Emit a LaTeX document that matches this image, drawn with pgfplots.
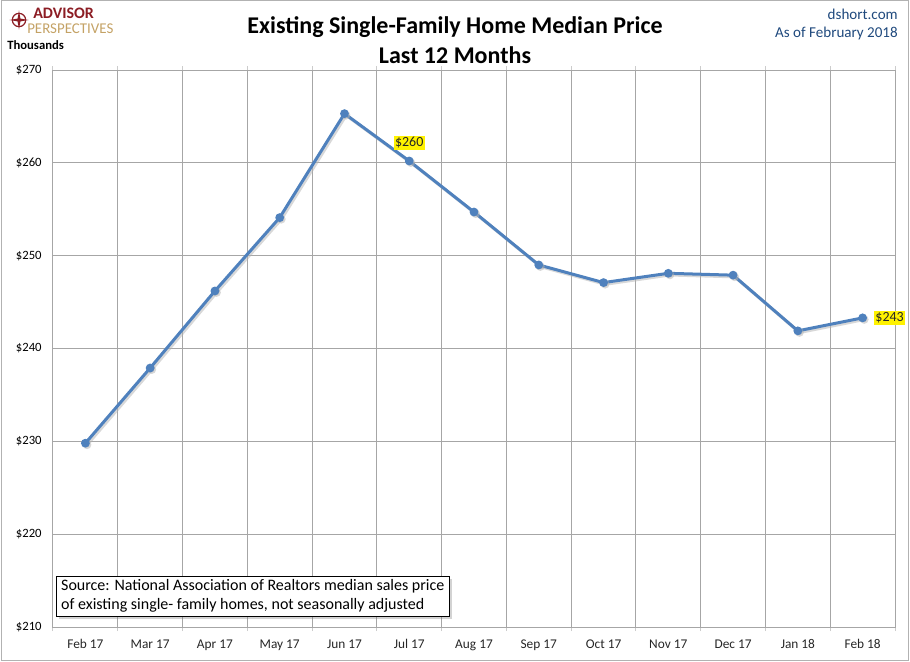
\documentclass[border=0pt]{standalone}
\usepackage{pgfplots}
\pgfplotsset{compat=1.18}
\usepackage{fontspec}
\setmainfont{Carlito}
\usetikzlibrary{shadows}
\definecolor{lineblue}{HTML}{4F81BD}
\definecolor{gridgray}{HTML}{A6A6A6}
\definecolor{dblue}{HTML}{1F497D}
\definecolor{apred}{HTML}{8C1D24}
\definecolor{apgold}{HTML}{C4A265}
\begin{document}
\begin{tikzpicture}[x=1pt,y=1pt]
\useasboundingbox (0,0) rectangle (682.5,495.75);
\draw[gray!60, line width=0.75pt] (0.75,0.75) rectangle (681.5,495);
\begin{axis}[
  at={(39.75pt,25.5pt)}, anchor=south west,
  scale only axis, width=631.5pt, height=417.75pt,
  xmin=-0.5, xmax=12.5, ymin=210, ymax=270,
  xtick={0,...,12},
  xticklabels={Feb 17,Mar 17,Apr 17,May 17,Jun 17,Jul 17,Aug 17,Sep 17,Oct 17,Nov 17,Dec 17,Jan 18,Feb 18},
  minor xtick={-0.5,0.5,...,12.5},
  ytick={210,220,...,270},
  yticklabels={\$210,\$220,\$230,\$240,\$250,\$260,\$270},
  xmajorgrids=false, xminorgrids=true, ymajorgrids=true,
  grid style={gridgray, line width=0.75pt},
  minor grid style={gridgray, line width=0.75pt},
  axis line style={gridgray, line width=0.75pt},
  major tick length=0pt, minor tick length=3pt, tick align=outside,
  minor tick style={gray!40, line width=0.75pt},
  ytick style={draw=none},
  xticklabel style={font=\fontsize{10}{11}\selectfont, text=black!85, yshift=-6pt},
  yticklabel style={font=\fontsize{9.5}{10}\selectfont, text=black, xshift=-5pt},
  clip=false,
]
\addplot[black!30, opacity=0.5, line width=2.4pt, shift={(1.2pt,-1.2pt)}, forget plot,
  mark=*, mark size=2pt] coordinates {
 (0,229.8) (1,237.9) (2,246.2) (3,254.1) (4,265.3) (5,260.2) (6,254.7)
 (7,249.0) (8,247.1) (9,248.1) (10,247.9) (11,241.9) (12,243.3)};
\addplot[lineblue, line width=2.25pt, mark=*, mark size=2.1pt,
  mark options={fill=lineblue, draw=lineblue}] coordinates {
 (0,229.8) (1,237.9) (2,246.2) (3,254.1) (4,265.3) (5,260.2) (6,254.7)
 (7,249.0) (8,247.1) (9,248.1) (10,247.9) (11,241.9) (12,243.3)};
\node[fill=yellow, inner sep=1pt, font=\fontsize{10.5}{12}\selectfont, text=black!85, yshift=13.5pt]
  at (axis cs:5,260.2) {\$260};
\node[fill=yellow, inner sep=1pt, anchor=west, font=\fontsize{10.5}{12}\selectfont, text=black!85, xshift=8.4pt]
  at (axis cs:12,243.3) {\$243};
\end{axis}
% source box
\node[draw=black, fill=white, line width=0.75pt,
  drop shadow={shadow xshift=2pt, shadow yshift=-2pt, opacity=0.35},
  anchor=north west, align=left, inner xsep=3.5pt, inner ysep=2.5pt,
  font=\fontsize{12}{14.25}\selectfont]
  at (42,63.75) {Source: National Association of Realtors median sales price\\of existing single- family homes, not seasonally adjusted};
% titles
\node[font=\bfseries\fontsize{18}{20}\selectfont] at (341.25,475.5) {Existing Single-Family Home Median Price};
\node[font=\bfseries\fontsize{18}{20}\selectfont] at (341.25,454.5) {Last 12 Months};
\node[anchor=east, text=dblue, font=\fontsize{11.3}{12}\selectfont, inner sep=0pt] at (673.5,485.25) {dshort.com};
\node[anchor=east, text=dblue, font=\fontsize{11.3}{12}\selectfont, inner sep=0pt] at (673.5,471) {As of February 2018};
\node[anchor=west, font=\bfseries\fontsize{9.5}{10}\selectfont, inner sep=0pt] at (5.25,462) {Thousands};
% logo
\draw[apred, line width=0.9pt] (14.25,480.75) circle (5);
\fill[apred] (14.25,488) -- (15.3,481.8) -- (21.5,480.75) -- (15.3,479.7) -- (14.25,473.5) -- (13.2,479.7) -- (7,480.75) -- (13.2,481.8) -- cycle;
\node[anchor=base west, text=apred, font=\bfseries\fontsize{12}{13}\selectfont, inner sep=0pt] at (24.75,482) {ADVISOR};
\node[anchor=base west, text=apgold, font=\fontsize{11.2}{12}\selectfont, inner sep=0pt] at (20.25,470.5) {PERSPECTIVES};
\end{tikzpicture}
\end{document}
